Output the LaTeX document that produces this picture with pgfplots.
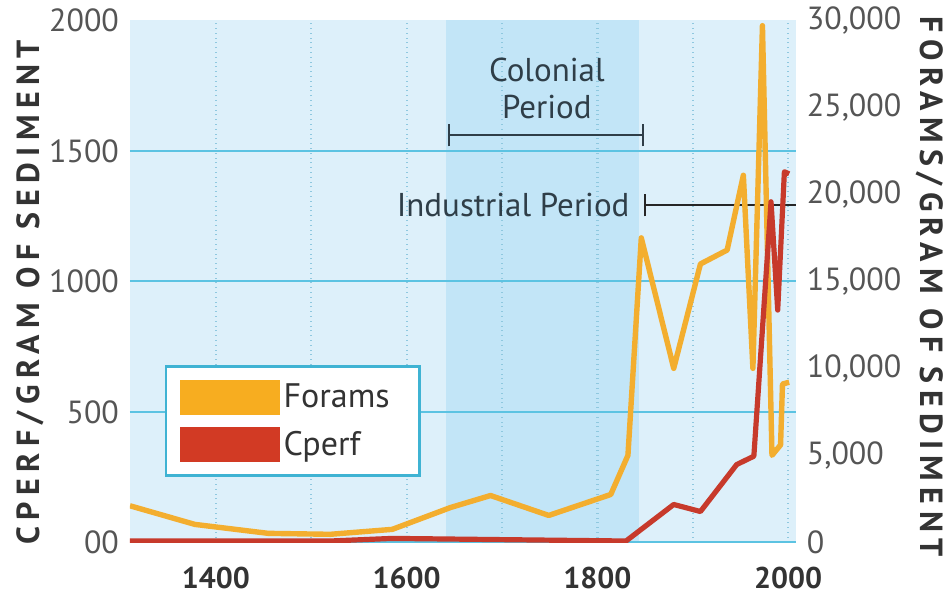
\documentclass[border=0pt]{standalone}
\usepackage{fontspec}
\setmainfont{PT Sans}
\newfontfamily\titlefont[LetterSpace=20]{PT Sans}
\usepackage{pgfplots}
\pgfplotsset{compat=1.18}
\definecolor{bgblue}{HTML}{DDF0FA}
\definecolor{bandblue}{HTML}{C2E5F7}
\definecolor{gridcyan}{HTML}{5CC3E2}
\definecolor{dotblue}{HTML}{8FC8DF}
\definecolor{foramc}{HTML}{F3AE2F}
\definecolor{cperfc}{HTML}{C73A2B}
\definecolor{legorange}{HTML}{F7AD20}
\definecolor{legred}{HTML}{D23A24}
\definecolor{ticktext}{HTML}{555555}
\definecolor{titletext}{HTML}{333333}
\definecolor{annot}{HTML}{2F3E48}
\definecolor{legborder}{HTML}{3FB3D3}

\pgfplotsset{
  base/.style={
    scale only axis, width=333pt, height=261pt,
    at={(0,0)}, anchor=south west,
    xmin=1310, xmax=2008,
    axis line style={draw=none},
    major tick length=0pt, minor tick length=0pt,
    scaled y ticks=false, scaled x ticks=false,
    /pgf/number format/assume math mode=true,
  }
}

\begin{document}
\begin{tikzpicture}
% Axis A: background, band, grids, left ticks, x ticks
\begin{axis}[base, ymin=0, ymax=2000,
  set layers,
  axis background/.style={fill=bgblue},
  xtick={1400,1600,1800,2000}, minor xtick={1500,1700,1900},
  xticklabels={1400,1600,1800,2000},
  xmajorgrids, xminorgrids,
  major x grid style={dotblue, dotted, line width=1.1pt},
  minor x grid style={dotblue, dotted, line width=1.1pt},
  ytick={0,500,1000,1500,2000},
  yticklabels={00,500,1000,1500,2000},
  extra y ticks={0,500,1000,1500},
  extra y tick labels={},
  extra y tick style={grid=major, major grid style={gridcyan, line width=1pt}},
  x tick label style={font=\bfseries\fontsize{15}{15}\selectfont, text=titletext, yshift=-9pt},
  y tick label style={font=\fontsize{16}{16}\selectfont, text=ticktext, xshift=-2pt},
  ylabel={\titlefont\bfseries CPERF/GRAM OF SEDIMENT},
  ylabel style={at={(rel axis cs:-0.150,0.479)}, anchor=center, font=\fontsize{16}{16}\selectfont, text=titletext},
]
\addplot[fill=bandblue, draw=none, on layer=axis background] coordinates {(1641,0) (1844,0) (1844,2000) (1641,2000)} -- cycle;
\end{axis}

% Annotations
\node[annot, align=center, font=\fontsize{16.5}{18.5}\selectfont, inner sep=0pt] at (208.5pt,226.75pt) {Colonial\\Period};
\draw[annot, line width=1pt] (159.5pt,203.5pt) -- (256.5pt,203.5pt);
\draw[annot, line width=1pt] (159.5pt,198pt) -- (159.5pt,209pt);
\draw[annot, line width=1pt] (256.5pt,198pt) -- (256.5pt,209pt);
\node[annot, anchor=east, font=\fontsize{16.5}{18.5}\selectfont, inner sep=0pt] at (250pt,168.5pt) {Industrial Period};
\draw[black!85, line width=1pt] (257.5pt,168.5pt) -- (333pt,168.5pt);
\draw[black!85, line width=1pt] (257.5pt,163pt) -- (257.5pt,174pt);

% Axis B: forams on right scale
\begin{axis}[base, ymin=0, ymax=30000,
  xtick=\empty,
  yticklabel pos=right,
  ytick={0,5000,10000,15000,20000,25000,30000},
  yticklabels={0,{5,000},{10,000},{15,000},{20,000},{25,000},{30,000}},
  y tick label style={font=\fontsize{16}{16}\selectfont, text=ticktext, xshift=2pt},
  ylabel={\titlefont\bfseries FORAMS/GRAM OF SEDIMENT},
  ylabel style={at={(rel axis cs:1.201,0.49)}, anchor=center, rotate=180, font=\fontsize{16}{16}\selectfont, text=titletext},
]
\addplot[foramc, line width=2.7pt, line join=round, no markers] coordinates {
(1310,2100) (1378,1030) (1455,515) (1520,460) (1585,745) (1646,2000)
(1688,2690) (1749,1545) (1814,2750) (1832,5000) (1846,17500) (1880,10000)
(1908,16000) (1936,16800) (1953,21100) (1963,10000) (1973,29700)
(1983,5000) (1992,5600) (1994,9100) (2001,9200)
};
\end{axis}

% Axis C: Cperf on left scale, legend
\begin{axis}[base, ymin=0, ymax=2000,
  xtick=\empty, ytick=\empty,
  legend style={at={(rel axis cs:0.0526,0.339)}, anchor=north west,
    draw=legborder, line width=1.2pt, fill=white,
    inner xsep=7pt, inner ysep=6.5pt, row sep=6pt,
    font=\fontsize{17}{18}\selectfont, text=titletext,
    cells={anchor=west}},
]
\addplot[cperfc, line width=2.6pt, line join=round, no markers, forget plot] coordinates {
(1310,5) (1520,5) (1585,15) (1830,5) (1880,145) (1908,118) (1946,298)
(1964,330) (1982,1305) (1989,890) (1996,1420) (2001,1412)
};
\addlegendimage{legend image code/.code={\fill[legorange] (0pt,-8.25pt) rectangle (48.5pt,8.25pt);}}
\addlegendentry{Forams\hspace*{6pt}}
\addlegendimage{legend image code/.code={\fill[legred] (0pt,-8.25pt) rectangle (48.5pt,8.25pt);}}
\addlegendentry{Cperf}
\end{axis}
\path (-65pt,-26pt) rectangle (410pt,270pt);
\end{tikzpicture}
\end{document}
